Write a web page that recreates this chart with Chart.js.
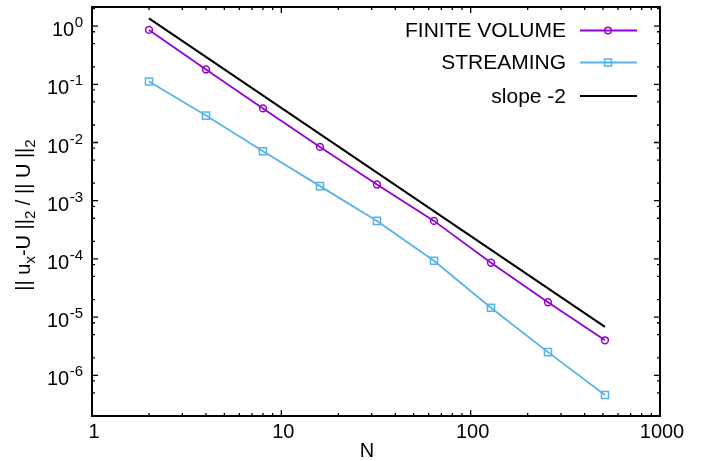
<!DOCTYPE html>
<html>
<head>
<meta charset="utf-8">
<script src="https://cdn.jsdelivr.net/npm/chart.js@4/dist/chart.umd.min.js"></script>
<style>
html,body{margin:0;padding:0;background:#fff;}
#wrap{width:702px;height:461px;position:relative;}
</style>
</head>
<body>
<div id="wrap"><canvas id="c" width="702" height="461"></canvas></div>
<script>
// ---- data ----
const gridN = [2, 4, 8, 16, 32, 64, 128, 256, 512];
const finiteVolume = [0.86, 0.18, 0.0385, 0.0084, 0.0019, 0.00045, 0.000086, 0.000018, 0.0000040];
const streaming = [0.112, 0.029, 0.0071, 0.00178, 0.00045, 0.000093, 0.0000145, 0.0000025, 0.00000046];
const slopeN = [2, 512];
const slopeValues = [1.36, 0.0000068];
const seriesNames = ['FINITE VOLUME', 'STREAMING', 'slope -2'];
const xTickValues = [1, 10, 100, 1000];
const xTickLabels = ['1', '10', '100', '1000'];
const yTickExponents = [0, -1, -2, -3, -4, -5, -6];
const xTitle = 'N';

const colFV = '#9400D3';
const colST = '#56B4E9';
const FONT = '"Liberation Sans", Arial, sans-serif';

function pts(xs, ys) { return xs.map((x, i) => ({ x: x, y: ys[i] })); }

const decor = {
  id: 'decor',
  afterDraw(chart) {
    const ctx = chart.ctx;
    const a = chart.chartArea;
    const xs = chart.scales.x, ys = chart.scales.y;
    ctx.save();
    ctx.strokeStyle = '#000';
    ctx.fillStyle = '#000';
    // ticks (inward, mirrored)
    ctx.lineWidth = 1.3;
    ctx.beginPath();
    for (let d = 0; d <= 3; d++) {
      for (let k = 1; k <= 9; k++) {
        const v = k * Math.pow(10, d);
        if (v > xs.max) break;
        const px = xs.getPixelForValue(v);
        const len = k === 1 ? 6 : 3;
        ctx.moveTo(px, a.bottom); ctx.lineTo(px, a.bottom - len);
        ctx.moveTo(px, a.top); ctx.lineTo(px, a.top + len);
      }
    }
    for (let d = -7; d <= 0; d++) {
      for (const k of [1, 2, 5, 8]) {
        const v = k * Math.pow(10, d);
        if (v < ys.min || v > ys.max) continue;
        const py = ys.getPixelForValue(v);
        const len = k === 1 ? 6 : 3;
        ctx.moveTo(a.left, py); ctx.lineTo(a.left + len, py);
        ctx.moveTo(a.right, py); ctx.lineTo(a.right - len, py);
      }
    }
    ctx.stroke();
    // border
    ctx.lineWidth = 2;
    ctx.strokeRect(a.left, a.top, a.right - a.left, a.bottom - a.top);

    // x tick labels
    ctx.font = '20px ' + FONT;
    ctx.textAlign = 'center';
    ctx.textBaseline = 'alphabetic';
    xTickValues.forEach((v, i) => {
      ctx.fillText(xTickLabels[i], xs.getPixelForValue(v) + 2, 438);
    });
    // y tick labels 10^e
    yTickExponents.forEach(e => {
      const py = ys.getPixelForValue(Math.pow(10, e));
      const exp = String(e);
      ctx.font = '15px ' + FONT;
      ctx.textAlign = 'right';
      const ew = ctx.measureText(exp).width;
      ctx.fillText(exp, 83, py + 1);
      ctx.font = '20px ' + FONT;
      ctx.fillText('10', 83 - ew - 0.5, py + 10);
    });
    // x title
    ctx.font = '20px ' + FONT;
    ctx.textAlign = 'center';
    ctx.fillText(xTitle, 367, 457);

    // y title (rotated, with subscripts)
    const parts = [
      ['|| u', false], ['x', true], ['-U ||', false], ['2', true],
      [' / || U ||', false], ['2', true]
    ];
    const mainF = '20px ' + FONT, subF = '15px ' + FONT;
    let total = 0;
    parts.forEach(p => { ctx.font = p[1] ? subF : mainF; total += ctx.measureText(p[0]).width; });
    ctx.translate(30, 215);
    ctx.rotate(-Math.PI / 2);
    ctx.textAlign = 'left';
    let cx = -total / 2;
    parts.forEach(p => {
      ctx.font = p[1] ? subF : mainF;
      ctx.fillText(p[0], cx, p[1] ? 5 : 0);
      cx += ctx.measureText(p[0]).width;
    });
    ctx.setTransform(1, 0, 0, 1, 0, 0);

    // legend
    const rows = [
      { name: seriesNames[0], col: colFV, y: 30.5, mark: 'circle', lw: 1.8 },
      { name: seriesNames[1], col: colST, y: 62.5, mark: 'rect', lw: 1.8 },
      { name: seriesNames[2], col: '#000', y: 96, mark: null, lw: 2 }
    ];
    ctx.font = '21px ' + FONT;
    ctx.textAlign = 'right';
    ctx.textBaseline = 'middle';
    rows.forEach(r => {
      ctx.fillStyle = '#000';
      ctx.fillText(r.name, 566, r.y + 1);
      ctx.strokeStyle = r.col;
      ctx.lineWidth = r.lw;
      ctx.beginPath();
      ctx.moveTo(580, r.y); ctx.lineTo(637, r.y);
      ctx.stroke();
      ctx.lineWidth = 1.5;
      if (r.mark === 'circle') {
        ctx.beginPath(); ctx.arc(608, r.y, 3.3, 0, Math.PI * 2); ctx.stroke();
      } else if (r.mark === 'rect') {
        ctx.strokeRect(608 - 3.5, r.y - 3.5, 7, 7);
      }
    });
    ctx.restore();
  }
};

new Chart(document.getElementById('c'), {
  type: 'line',
  data: {
    datasets: [
      {
        label: seriesNames[0], data: pts(gridN, finiteVolume),
        borderColor: colFV, borderWidth: 1.8, pointStyle: 'circle',
        pointRadius: 3.4, pointBorderWidth: 1.5, pointBackgroundColor: 'rgba(0,0,0,0)',
        pointBorderColor: colFV
      },
      {
        label: seriesNames[1], data: pts(gridN, streaming),
        borderColor: colST, borderWidth: 1.8, pointStyle: 'rect',
        pointRadius: 5, pointBorderWidth: 1.5, pointBackgroundColor: 'rgba(0,0,0,0)',
        pointBorderColor: colST
      },
      {
        label: seriesNames[2], data: pts(slopeN, slopeValues),
        borderColor: '#000', borderWidth: 2, pointRadius: 0
      }
    ]
  },
  options: {
    responsive: false,
    animation: false,
    events: [],
    layout: { padding: { left: 0, top: 7, right: 42, bottom: 0 } },
    plugins: { legend: { display: false }, tooltip: { enabled: false } },
    scales: {
      x: {
        type: 'logarithmic', min: 1, max: 1000,
        grid: { display: false }, border: { display: false },
        ticks: { display: false },
        afterFit(s) { s.height = 45; }
      },
      y: {
        type: 'logarithmic', min: 2e-7, max: 2.13,
        grid: { display: false }, border: { display: false },
        ticks: { display: false },
        afterFit(s) { s.width = 92; }
      }
    }
  },
  plugins: [decor]
});
</script>
</body>
</html>
